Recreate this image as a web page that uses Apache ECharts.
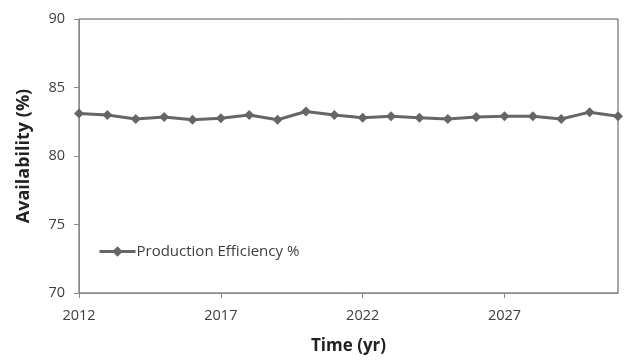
<!DOCTYPE html>
<html>
<head>
<meta charset="utf-8">
<script src="https://cdn.jsdelivr.net/npm/echarts@6/dist/echarts.min.js"></script>
<style>
  html, body { margin: 0; padding: 0; background: #fff; }
  #chart { width: 631px; height: 361px; }
</style>
</head>
<body>
<div id="chart"></div>
<script>
// Yearly production efficiency, 2012–2031
const years = [2012, 2013, 2014, 2015, 2016, 2017, 2018, 2019, 2020, 2021,
               2022, 2023, 2024, 2025, 2026, 2027, 2028, 2029, 2030, 2031];
const efficiency = [83.1, 83.0, 82.7, 82.85, 82.65, 82.75, 83.0, 82.65, 83.25, 83.0,
                    82.8, 82.9, 82.8, 82.7, 82.85, 82.9, 82.9, 82.7, 83.2, 82.9];
const xTickLabels = [2012, 2017, 2022, 2027];
const seriesName = 'Production Efficiency %';

const textColor = '#404040';
const fontFamily = '"Open Sans", "Noto Sans", sans-serif';

const chart = echarts.init(document.getElementById('chart'), null, { renderer: 'canvas' });

chart.setOption({
  animation: false,
  backgroundColor: '#fff',
  textStyle: { fontFamily: fontFamily, color: textColor },
  grid: {
    left: 79, right: 13, top: 19, bottom: 68,
    show: true, borderColor: '#555', borderWidth: 1
  },
  legend: {
    left: 93, top: 239,
    itemWidth: 36, itemHeight: 13, itemGap: 0,
    lineStyle: { width: 3 },
    textStyle: { fontFamily: fontFamily, fontSize: 15, color: textColor, padding: [0, 0, 0, -4] },
    data: [seriesName]
  },
  xAxis: {
    type: 'value',
    min: 2012, max: 2031,
    name: 'Time (yr)',
    nameLocation: 'middle',
    nameGap: 45,
    nameTextStyle: { fontFamily: fontFamily, fontSize: 17, fontWeight: 'bold', color: '#222' },
    axisLine: { show: true, lineStyle: { color: '#888', width: 1 } },
    axisTick: { show: true, length: 5, lineStyle: { color: '#888' }, customValues: xTickLabels },
    axisLabel: {
      customValues: xTickLabels, margin: 15, fontSize: 14.5, color: textColor, fontFamily: fontFamily,
      formatter: v => String(v)
    },
    splitLine: { show: false }
  },
  yAxis: {
    type: 'value',
    min: 70, max: 90, interval: 5,
    name: 'Availability (%)',
    nameLocation: 'middle',
    nameGap: 46,
    nameTextStyle: { fontFamily: fontFamily, fontSize: 18, fontWeight: 'bold', color: '#222' },
    axisLine: { show: true, lineStyle: { color: '#888', width: 1 } },
    axisTick: { show: true, inside: false, length: 5, lineStyle: { color: '#888' } },
    axisLabel: { margin: 14, fontSize: 14.5, color: textColor, fontFamily: fontFamily },
    splitLine: { show: false }
  },
  series: [{
    name: seriesName,
    type: 'line',
    data: years.map((y, i) => [y, efficiency[i]]),
    symbol: 'diamond',
    symbolSize: 10,
    lineStyle: { color: '#666', width: 3 },
    itemStyle: { color: '#666' },
    clip: false
  }]
});
</script>
</body>
</html>
